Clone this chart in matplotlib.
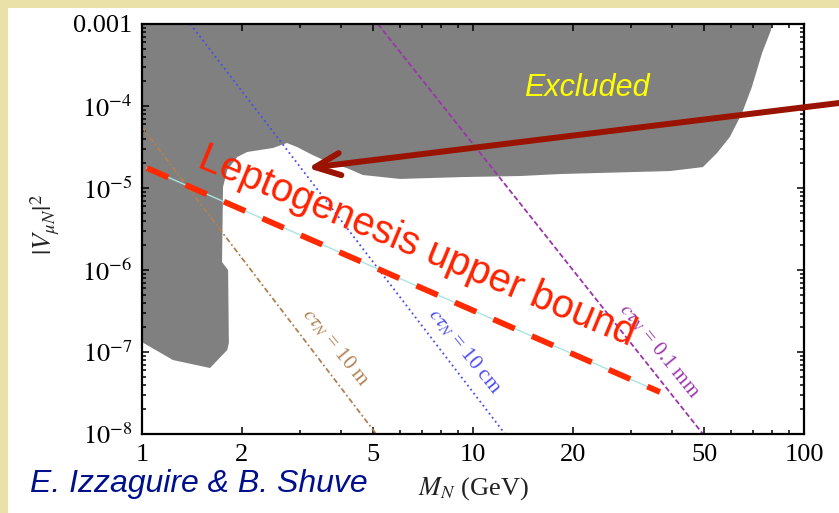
import matplotlib.pyplot as plt
from matplotlib.patches import Rectangle
from matplotlib.ticker import FixedLocator, FixedFormatter, LogLocator, NullFormatter

plt.rcParams['font.family'] = ['Liberation Serif', 'DejaVu Serif']
plt.rcParams['mathtext.fontset'] = 'stix'

# excluded region (gray), M_N in GeV vs |V_muN|^2
excl_mass = [1.0, 80.0, 79.5, 74.7, 69.6, 65.0, 59.7, 54.6, 49.5, 39.4, 18.3,
             13.9, 9.33, 6.02, 4.65, 4.16, 3.70, 3.28, 2.94, 2.74, 2.49, 2.08,
             1.94, 1.81, 1.757, 1.745, 1.82, 1.83, 1.81, 1.605, 1.24, 1.0]
excl_mix = [1e-3, 1e-3, 8.45e-4, 4.43e-4, 1.71e-4, 8.2e-5, 4.19e-5, 2.67e-5,
            1.80e-5, 1.61e-5, 1.48e-5, 1.40e-5, 1.36e-5, 1.29e-5, 1.44e-5,
            1.75e-5, 2.02e-5, 2.52e-5, 3.16e-5, 3.54e-5, 3.08e-5, 2.75e-5,
            2.39e-5, 1.66e-5, 1.03e-5, 1.25e-6, 1.0e-6, 1.29e-7, 1.06e-7,
            6.38e-8, 7.98e-8, 1.32e-7]

# fixed decay length lines
ctau_names = ['10 m', '10 cm', '0.1 mm']
ctau_mass = [[1.0, 5.1], [1.4, 12.5], [5.16, 49.5]]
ctau_mix = [[5.5e-5, 1e-8], [1e-3, 1e-8], [1e-3, 1e-8]]
ctau_label_pos = [(3.85, 1.15e-7), (9.4, 1.04e-7), (36.5, 1.04e-7)]
ctau_colors = ['#B08050', '#4A4AF0', '#9A35AA']
ctau_dashes = [(3, 1.5, 1, 1.5), (1, 1.8), (3, 1.5)]

# leptogenesis upper bound
lepto_mass = [1.035, 36.7]
lepto_mix = [1.75e-5, 3.25e-8]

x_ticks = [1, 2, 5, 10, 20, 50, 100]
x_ticklabels = ['1', '2', '5', '10', '20', '50', '100']
x_minor = [3, 4, 6, 7, 8, 9, 30, 40, 60, 70, 80, 90]
y_ticks = [1e-8, 1e-7, 1e-6, 1e-5, 1e-4, 1e-3]
y_ticklabels = [r'$10^{-8}$', r'$10^{-7}$', r'$10^{-6}$', r'$10^{-5}$',
                r'$10^{-4}$', '0.001']

W, H = 839, 513
fig = plt.figure(figsize=(W / 100, H / 100), dpi=100, facecolor='#EAE1A9')
fig.add_artist(Rectangle((7.5 / W, 0), 1, (H - 7.5) / H, transform=fig.transFigure,
                         facecolor='white', edgecolor='none', zorder=-10))
ax = fig.add_axes([142 / W, 79 / H, 662 / W, 410 / H])
ax.set_xscale('log')
ax.set_yscale('log')
ax.set_xlim(1, 100)
ax.set_ylim(1e-8, 1e-3)

ax.fill(excl_mass, excl_mix, color='#808080', lw=0, zorder=1)

for m, v, c, d in zip(ctau_mass, ctau_mix, ctau_colors, ctau_dashes):
    ax.plot(m, v, color=c, lw=1.3, dashes=d, zorder=2)
for name, (px, py), c in zip(ctau_names, ctau_label_pos, ctau_colors):
    ax.text(px, py, r'$c\tau_N$ = ' + name, color=c, fontsize=15, rotation=-51,
            ha='center', va='center', rotation_mode='anchor', zorder=4)

ax.plot(lepto_mass, lepto_mix, color='#A8E4E4', lw=1.0, zorder=3)
ax.plot(lepto_mass, lepto_mix, color='#FF2A00', lw=4.2, dashes=(4.0, 3.2),
        solid_capstyle='butt', dash_capstyle='butt', zorder=3)

ax.text(0.415, 0.458, 'Leptogenesis upper bound', transform=ax.transAxes,
        family='Liberation Sans', fontsize=28.5, color='#FF2200', rotation=-22.5,
        ha='center', va='center', rotation_mode='anchor', zorder=4)
ax.text(0.672, 0.844, 'Excluded', transform=ax.transAxes, family='Liberation Sans',
        style='italic', fontsize=22, color='#FFFF00', ha='center', va='center', zorder=4)

ax.annotate('', xy=(3.17, 1.75e-5), xycoords='data',
            xytext=(1.0, (H - 103) / H), textcoords='figure fraction',
            arrowprops=dict(arrowstyle='->,head_length=1.8,head_width=0.8',
                            color='#9A1200', lw=4.3, mutation_scale=10,
                            shrinkA=0, shrinkB=0),
            annotation_clip=False, zorder=5)

ax.xaxis.set_major_locator(FixedLocator(x_ticks))
ax.xaxis.set_major_formatter(FixedFormatter(x_ticklabels))
ax.xaxis.set_minor_locator(FixedLocator(x_minor))
ax.xaxis.set_minor_formatter(NullFormatter())
ax.yaxis.set_major_locator(FixedLocator(y_ticks))
ax.yaxis.set_major_formatter(FixedFormatter(y_ticklabels))
ax.yaxis.set_minor_locator(LogLocator(base=10, subs=range(2, 10)))
ax.yaxis.set_minor_formatter(NullFormatter())
ax.tick_params(which='both', direction='in', top=True, right=True, width=1.1,
               labelsize=19, pad=7, colors='black')
ax.tick_params(which='major', length=5)
ax.tick_params(which='minor', length=3)
for s in ax.spines.values():
    s.set_linewidth(1.6)

ax.set_xlabel(r'$M_N$ (GeV)', fontsize=19, color='#222222')
ax.xaxis.set_label_coords(0.5, -0.1)
ax.set_ylabel(r'$|V_{\mu N}|^2$', fontsize=19, color='#222222')
ax.yaxis.set_label_coords(-0.121, 0.51)

fig.text(30 / W, 21 / H, 'E. Izzaguire & B. Shuve', family='Liberation Sans',
         style='italic', fontsize=23, color='#00108C', va='baseline')

fig.savefig('out.png', dpi=100, facecolor=fig.get_facecolor())
